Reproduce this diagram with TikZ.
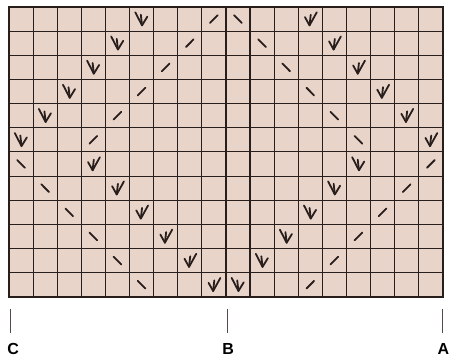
\documentclass[tikz,border=0pt]{standalone}
\usepackage{fontspec}
\setsansfont{Liberation Sans}
\usepackage{tikz}
\usepackage{xcolor}
\usetikzlibrary{positioning}
\definecolor{cellcol}{RGB}{233, 212, 202}
\definecolor{inkcol}{RGB}{40, 30, 28}

\begin{document}
\begin{tikzpicture}[
    x=24.1pt, y=-24.15pt,
    gridline/.style={draw=inkcol, line width=1.1pt},
    gridframe/.style={draw=inkcol, line width=2pt},
    sym/.style={draw=inkcol, line width=1.8pt, line cap=round, line join=round},
    lbl/.style={font=\sffamily\bfseries\fontsize{16}{16}\selectfont, inner sep=0pt},
    tickline/.style={draw=inkcol!80, line width=0.9pt},
    symdecl/.pic={\draw[sym] (0.24,0.22) -- (0.52,0.76) -- (0.74,0.4);
                  \draw[sym] (0.47,0.32) -- (0.52,0.76);},
    symdecr/.pic={\draw[sym] (0.77,0.22) -- (0.47,0.76) -- (0.28,0.42);
                  \draw[sym] (0.52,0.32) -- (0.47,0.76);},
    symslash/.pic={\draw[sym] (0.34,0.66) -- (0.66,0.34);},
    symbslash/.pic={\draw[sym] (0.34,0.34) -- (0.66,0.66);}
  ]
  \useasboundingbox (-0.3734,-0.29) rectangle (18.34,14.534);

  % Chart
  \fill[cellcol] (0,0) rectangle (18,12);
  \foreach \c in {1,...,17} \draw[gridline] (\c,0) -- (\c,12);
  \foreach \r in {1,...,11} \draw[gridline] (0,\r) -- (18,\r);
  \draw[gridframe] (9,0) -- (9,12);
  \draw[gridframe] (0,0) rectangle (18,12);

  % Left half
  \foreach \r in {1,...,6} {
    \pic at ({6-\r},{\r-1}) {symdecl};
    \pic at ({9-\r},{\r-1}) {symslash};
  }
  \foreach \r in {7,...,12} {
    \pic at ({\r-7},{\r-1}) {symbslash};
    \pic at ({\r-4},{\r-1}) {symdecr};
  }

  % Right half
  \foreach \r in {1,...,6} {
    \pic at ({8+\r},{\r-1}) {symbslash};
    \pic at ({11+\r},{\r-1}) {symdecr};
  }
  \foreach \r in {7,...,12} {
    \pic at ({21-\r},{\r-1}) {symdecl};
    \pic at ({24-\r},{\r-1}) {symslash};
  }

  % Markers
  \node[lbl] (markC) at (0.17,14.16) {C};
  \node[lbl] (markB) at (9.09,14.16) {B};
  \node[lbl] (markA) at (18.02,14.16) {A};
  \draw[tickline] (0.07,12.5) -- (0.07,13.5);
  \draw[tickline] (9.05,12.5) -- (9.05,13.5);
  \draw[tickline] (17.99,12.5) -- (17.99,13.5);
\end{tikzpicture}
\end{document}
